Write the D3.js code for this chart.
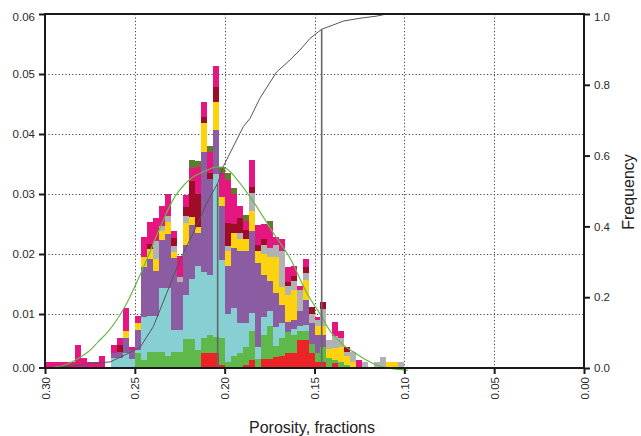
<!DOCTYPE html>
<html>
<head>
<meta charset="utf-8">
<script src="https://cdn.jsdelivr.net/npm/d3@7"></script>
<style>
  body { margin: 0; background: #fff; }
  svg text { font-family: Arial, "Liberation Sans", sans-serif; }
</style>
</head>
<body>
<svg id="chart" width="641" height="436"></svg>
<script>
//
// Data
//

// 60 porosity bins from 0.30 down to 0.10
const binTop = 0.30;
const binCount = 60;
const binWidth = 0.2 / binCount;

// Stacked frequencies per bin, in thousandths (bottom layer first)
const red = [0,0,0,0,0,0,0,0,0,0, 0,0,0,0,0,0,0,0,0,0, 0,0,0,0,0,0,3.5,3.5,3.5,1.5, 0.5,0.5,0,1.5,2.3,0.5,2.5,2.5,2.9,3.0, 3.5,3.5,5.7,5.7,3.5,2.0,2.0,1.2,1.8,1.0, 0.5,0,0,0,0,0,0,0,0,0];
const green = [0,0,0,0,0,0,0,0,0,0, 0,0,0,0,0,3.5,2.3,3.6,3.6,3.6, 3.0,3.6,3.6,5.9,5.9,4.0,2.5,3.0,2.7,4.5, 1.5,2.5,3.5,3.0,4.8,2.0,4.0,5.5,1.7,3.0, 3.5,3.0,1.5,1.5,1.5,1.5,2.5,1.5,0.5,1.0, 1.0,1.0,0,0,0,0,0,0,0,0];
const cyan = [0,0,0,0,0,0,0,0,0,0, 0,2.6,2.7,3.5,2.5,0.5,7.2,6.0,6.0,10.8, 11.4,3.7,3.7,7.3,10.0,14.0,11.0,10.0,27.2,13.0, 8.0,8.0,5.0,4.0,3.0,2.0,3.0,2.5,3.3,2.5, 0,1.0,0.8,1.0,0,0,0,0,0,0, 0,0,0,0,0,0,0,0,0,0];
const purple = [0,0,0,0,0,0,0,0,0,0, 0,0.9,1.0,2.5,1.5,3.3,8.3,9.5,7.5,8.0, 9.0,12.0,8.0,8.3,9.0,5.5,20.0,16.0,7.2,9.0, 8.0,10.0,12.0,12.0,13.7,14.0,7.0,5.0,5.6,3.0, 1.7,1.5,2.5,4.2,3.5,3.0,2.0,0,0,0, 0,0,0,0,0,0,0,0,0,0];
const yellow = [0,0,0,0,0,0,0,0,0,0, 0,0,0,1.1,0,1.2,1.7,1.7,2.0,1.5, 2.0,1.1,0,3.7,1.2,1.0,4.8,0,4.8,1.5, 2.5,2.5,2.0,2.0,3.3,2.0,3.5,4.0,6.0,3.0, 4.5,5.0,0,3.3,0,1.5,1.5,1.5,2.0,2.5, 1.5,1.0,1.0,1.0,0,0,0,2.0,2.0,0];
const gray = [0,0,0,0,0,0,0,0,0,0, 0,0,0,0,0,0,0,0,3.0,0.8, 1.0,1.0,0.9,1.1,0,0,0,0,0,0, 0.8,0,1.0,0,3.0,0,1.5,1.5,2.0,6.0, 1.4,1.5,3.5,1.2,1.5,1.0,2.8,1.5,2.0,1.5, 0.7,1.7,0,1.0,0,2.0,2.8,0,0,2.0];
const darkred = [0,0,0,0,0,0,0,0,0,0, 0,0,1.1,0,0,0,0,0.8,0,0, 0,1.3,0,1.5,6.0,5.5,1.0,1.0,2.5,0, 3.9,1.5,2.5,1.5,1.1,1.0,1.0,0,0,0, 0.8,0.8,0,1.0,1.1,0,1.2,0,0,0, 0.8,0,0,0,0,0,0,0,0,0];
const magenta = [2.0,2.0,2.0,2.0,2.0,4.8,2.6,2.0,2.0,3.0, 0,1.4,1.2,3.9,0.5,1.1,3.3,3.7,3.9,3.3, 3.6,1.1,3.5,2.0,2.3,4.5,2.6,3.5,3.4,4.0, 7.2,5.0,2.0,1.5,4.5,3.3,2.5,3.5,1.4,2.0, 2.5,1.7,0.6,1.3,0,0.5,0,0,2.3,1.2, 0,0,1.3,0,0,0,0,0,0,0];
const darkgreen = [0,0,0,0,0,0,0,0,0,0, 0,0,0,0,0,0,0,0,0,0, 0,0,0,0,1.2,1.0,0,1.0,0,1.0, 1.1,1.0,0,1.0,0,0,0,1.0,0,0, 0,0,0,0,0,0,0,0,0,0, 0,0,0,0,0,0,0,0,0,0];

const seriesNames = ["red", "green", "cyan", "purple", "yellow", "gray", "darkred", "magenta", "darkgreen"];
const seriesValues = [red, green, cyan, purple, yellow, gray, darkred, magenta, darkgreen];
const seriesColors = ["#ec2327", "#5fb84a", "#88cfd3", "#8c5ca2", "#fdd20e", "#b1b2b4", "#9e0c28", "#e5167f", "#5b7d2c"];

// Fitted normal curve (porosity, frequency)
const normalPorosity = [0.300, 0.289, 0.2815, 0.2759, 0.2703, 0.2648, 0.2601, 0.2545, 0.2462, 0.2369, 0.2276, 0.2183, 0.2119, 0.2044, 0.1989, 0.1915, 0.1822, 0.1729, 0.1636, 0.1543, 0.1469, 0.1404, 0.1330, 0.1284, 0.1209, 0.1135, 0.1043, 0.098];
const normalFreq = [0.0009, 0.0015, 0.0026, 0.0037, 0.0054, 0.0071, 0.0090, 0.0118, 0.0171, 0.0237, 0.0296, 0.0327, 0.0337, 0.0345, 0.0342, 0.0318, 0.0279, 0.0235, 0.0193, 0.0135, 0.0100, 0.0068, 0.0046, 0.0037, 0.0023, 0.0013, 0.0008, 0.0006];

// Cumulative frequency curve (porosity, cumulative fraction)
const cumPorosity = [0.300, 0.2944, 0.2816, 0.2750, 0.2638, 0.2538, 0.2471, 0.2397, 0.2323, 0.2249, 0.2175, 0.2100, 0.2039, 0.2008, 0.1896, 0.1859, 0.1804, 0.1711, 0.1637, 0.1581, 0.1525, 0.1460, 0.1396, 0.1340, 0.1247, 0.1154, 0.1108, 0.1040];
const cumFreq = [0.000, 0.001, 0.008, 0.013, 0.017, 0.041, 0.058, 0.117, 0.211, 0.305, 0.381, 0.465, 0.522, 0.569, 0.682, 0.705, 0.762, 0.836, 0.870, 0.898, 0.931, 0.957, 0.969, 0.980, 0.988, 0.994, 0.999, 1.000];

// Percentile markers (P50, P95)
const markerPorosity = [0.2039, 0.146];
const markerCum = [0.522, 0.957];

// Axis ticks
const xTicks = [0.30, 0.25, 0.20, 0.15, 0.10, 0.05, 0.00];
const yTicks = [0.00, 0.01, 0.02, 0.03, 0.04, 0.05, 0.06];
const cumTicks = [0.0, 0.2, 0.4, 0.6, 0.8, 1.0];

//
// Chart
//

const svg = d3.select("#chart");
const plotLeft = 45, plotRight = 584, plotTop = 14, plotBottom = 368;

const x = d3.scaleLinear().domain([0.30, 0.00]).range([plotLeft, plotRight]);
// the frequency axis starts just above zero at the frame
const y = d3.scaleLinear().domain([0, 0.06]).range([374, plotTop]);
const yc = d3.scaleLinear().domain([0, 1]).range([plotBottom, plotTop]);

svg.append("defs").append("clipPath").attr("id", "plot")
  .append("rect").attr("x", plotLeft).attr("y", plotTop)
  .attr("width", plotRight - plotLeft).attr("height", plotBottom - plotTop);

// grid
const grid = svg.append("g").attr("stroke", "#444").attr("stroke-width", 1)
  .attr("stroke-dasharray", "1.2,2.2");
grid.selectAll("line.h").data(yTicks.slice(1, -1)).enter().append("line")
  .attr("x1", plotLeft).attr("x2", plotRight)
  .attr("y1", (d) => Math.round(y(d)) + 0.5).attr("y2", (d) => Math.round(y(d)) + 0.5);
grid.selectAll("line.v").data(xTicks.slice(1, -1)).enter().append("line")
  .attr("x1", (d) => Math.round(x(d)) + 0.5).attr("x2", (d) => Math.round(x(d)) + 0.5)
  .attr("y1", plotTop).attr("y2", plotBottom);

// stacked histogram
const rows = d3.range(binCount).map((i) => {
  const row = { lo: binTop - i * binWidth, hi: binTop - (i + 1) * binWidth };
  seriesNames.forEach((name, k) => (row[name] = seriesValues[k][i] / 1000));
  return row;
});
const stacked = d3.stack().keys(seriesNames)(rows);

svg.append("g").attr("clip-path", "url(#plot)").attr("shape-rendering", "crispEdges")
  .selectAll("g").data(stacked).enter().append("g")
  .attr("fill", (d, k) => seriesColors[k])
  .selectAll("rect").data((d) => d.filter((s) => s[1] > s[0])).enter().append("rect")
  .attr("x", (s) => x(s.data.lo))
  .attr("width", (s) => x(s.data.hi) - x(s.data.lo))
  .attr("y", (s) => y(s[1]))
  .attr("height", (s) => y(s[0]) - y(s[1]));

// normal curve
svg.append("path")
  .datum(normalPorosity.map((p, i) => [p, normalFreq[i]]))
  .attr("fill", "none").attr("stroke", "#66bb44").attr("stroke-width", 1.2)
  .attr("d", d3.line().x((d) => x(d[0])).y((d) => y(d[1])).curve(d3.curveCatmullRom));

// cumulative curve
svg.append("path")
  .datum(cumPorosity.map((p, i) => [p, cumFreq[i]]))
  .attr("fill", "none").attr("stroke", "#555").attr("stroke-width", 1)
  .attr("d", d3.line().x((d) => x(d[0])).y((d) => yc(d[1])));

// percentile markers
svg.selectAll("line.marker").data(markerPorosity).enter().append("line")
  .attr("stroke", "#666").attr("stroke-width", 1.6)
  .attr("x1", (d) => x(d)).attr("x2", (d) => x(d))
  .attr("y1", plotBottom).attr("y2", (d, i) => yc(markerCum[i]));

// frame
svg.append("rect").attr("x", plotLeft).attr("y", plotTop)
  .attr("width", plotRight - plotLeft).attr("height", plotBottom - plotTop)
  .attr("fill", "none").attr("stroke", "#1a1a1a").attr("stroke-width", 2);

function styleAxis(g) {
  g.select(".domain").remove();
  g.selectAll(".tick line").attr("stroke", "#1a1a1a").attr("stroke-width", 2);
  g.selectAll(".tick text").attr("fill", "#2a2a2a").style("font-size", "11.5px");
}

// left axis
const gy = svg.append("g").attr("transform", `translate(${plotLeft},0)`)
  .call(d3.axisLeft(y).tickValues(yTicks).tickSize(6).tickPadding(4).tickFormat(d3.format(".2f")))
  .call(styleAxis);
gy.selectAll(".tick").filter((d) => d === 0).attr("transform", `translate(0,${plotBottom})`);
gy.selectAll(".tick").filter((d) => d === 0.06).select("text").attr("dy", "0.55em");

// right axis
const gc = svg.append("g").attr("transform", `translate(${plotRight},0)`)
  .call(d3.axisRight(yc).tickValues(cumTicks).tickSize(6).tickPadding(4).tickFormat(d3.format(".1f")))
  .call(styleAxis);
gc.selectAll(".tick").filter((d) => d === 1).select("text").attr("dy", "0.55em");

// bottom axis, rotated labels
svg.append("g").attr("transform", `translate(0,${plotBottom})`)
  .call(d3.axisBottom(x).tickValues(xTicks).tickSize(6).tickFormat(d3.format(".2f")))
  .call(styleAxis)
  .selectAll(".tick text")
  .attr("transform", "rotate(-90)")
  .attr("x", -9).attr("y", 0).attr("dy", "0.35em")
  .style("text-anchor", "end");

// titles
svg.append("text").attr("x", 312).attr("y", 433).attr("text-anchor", "middle")
  .attr("fill", "#222").style("font-size", "16px").text("Porosity, fractions");
svg.append("text").attr("transform", "translate(634,192) rotate(-90)").attr("text-anchor", "middle")
  .attr("fill", "#222").style("font-size", "16px").text("Frequency");
</script>
</body>
</html>
